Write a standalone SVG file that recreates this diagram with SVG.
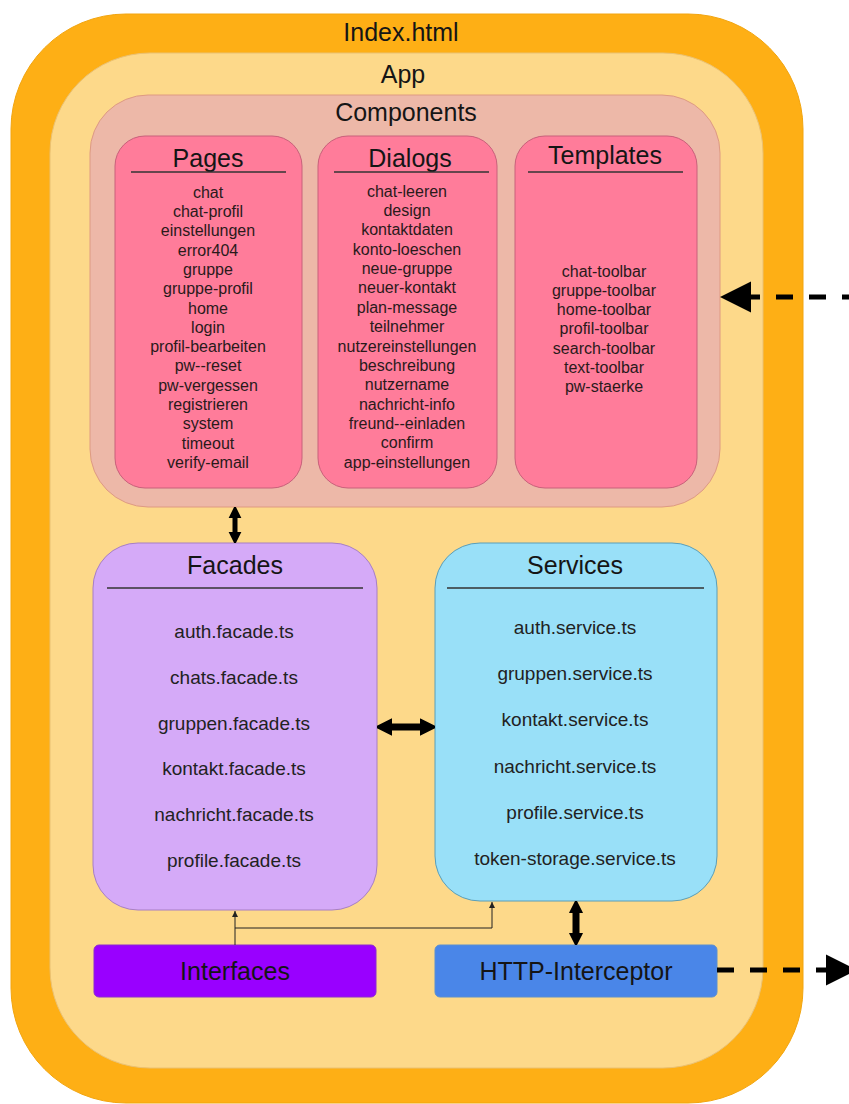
<svg xmlns="http://www.w3.org/2000/svg" width="849" height="1104" viewBox="0 0 849 1104">
<style>
  text { font-family: "Liberation Sans", Arial, sans-serif; fill: #151515; text-anchor: middle; }
  .t { font-size: 25px; }
  .s { font-size: 16px; fill: #2a1a1a; }
  .m { font-size: 19px; fill: #222; }
  .ul { stroke: #333; stroke-width: 1.6; }
  .comp { fill: #FF7C9A; stroke: #C8607A; stroke-width: 1; }
  .thick { stroke: #000; fill: none; }
  .dash { stroke: #000; stroke-width: 5; stroke-dasharray: 17 16; fill: none; }
  .thin { stroke: #222; stroke-width: 1; fill: none; }
</style>
<defs>
  <marker id="headS" viewBox="0 0 10 10" refX="0" refY="5" markerWidth="11" markerHeight="15" markerUnits="userSpaceOnUse" orient="auto-start-reverse">
    <path d="M0,0 L10,5 L0,10 z" fill="#000" stroke="#000" stroke-width="1.5" stroke-linejoin="round"/>
  </marker>
  <marker id="headM" viewBox="0 0 10 10" refX="0" refY="5" markerWidth="12" markerHeight="20" markerUnits="userSpaceOnUse" orient="auto-start-reverse">
    <path d="M0,0 L10,5 L0,10 z" fill="#000" stroke="#000" stroke-width="1.5" stroke-linejoin="round"/>
  </marker>
  <marker id="headL" viewBox="0 0 10 10" refX="0" refY="5" markerWidth="15" markerHeight="24" markerUnits="userSpaceOnUse" orient="auto-start-reverse">
    <path d="M0,0 L10,5 L0,10 z" fill="#000" stroke="#000" stroke-width="1.5" stroke-linejoin="round"/>
  </marker>
  <marker id="headBig" viewBox="0 0 10 10" refX="0" refY="5" markerWidth="31" markerHeight="35" markerUnits="userSpaceOnUse" orient="auto">
    <path d="M0,0 L10,5 L0,10 z" fill="#000"/>
  </marker>
  <marker id="headThin" viewBox="0 0 10 10" refX="10" refY="5" markerWidth="6" markerHeight="6" markerUnits="userSpaceOnUse" orient="auto">
    <path d="M0,0 L10,5 L0,10 z" fill="#222"/>
  </marker>
</defs>

<g id="index">
  <rect x="11" y="14" width="792" height="1089" rx="115" fill="#FEAF15" stroke="#F2A510" stroke-width="1"/>
  <text class="t" x="401" y="41">Index.html</text>
</g>

<g id="app">
  <rect x="50" y="53" width="713" height="1015" rx="100" fill="#FDD98A" stroke="#EAC173" stroke-width="1"/>
  <text class="t" x="403" y="83">App</text>
</g>

<g id="components">
  <rect x="90" y="95" width="630" height="412" rx="58" fill="#EDB8A8" stroke="#DE9A82" stroke-width="1"/>
  <text class="t" x="406" y="121">Components</text>
</g>

<g id="pages">
  <rect class="comp" x="115" y="136" width="187" height="352" rx="30"/>
  <text class="t" x="208" y="167">Pages</text>
  <line class="ul" x1="131" y1="172" x2="286" y2="172"/>
  <text class="s" x="208" y="197.7">chat</text>
  <text class="s" x="208" y="217">chat-profil</text>
  <text class="s" x="208" y="236.3">einstellungen</text>
  <text class="s" x="208" y="255.6">error404</text>
  <text class="s" x="208" y="274.9">gruppe</text>
  <text class="s" x="208" y="294.2">gruppe-profil</text>
  <text class="s" x="208" y="313.5">home</text>
  <text class="s" x="208" y="332.8">login</text>
  <text class="s" x="208" y="352.1">profil-bearbeiten</text>
  <text class="s" x="208" y="371.4">pw--reset</text>
  <text class="s" x="208" y="390.7">pw-vergessen</text>
  <text class="s" x="208" y="410">registrieren</text>
  <text class="s" x="208" y="429.3">system</text>
  <text class="s" x="208" y="448.6">timeout</text>
  <text class="s" x="208" y="467.9">verify-email</text>
</g>

<g id="dialogs">
  <rect class="comp" x="318" y="136" width="179" height="352" rx="30"/>
  <text class="t" x="410" y="167">Dialogs</text>
  <line class="ul" x1="334" y1="172" x2="489" y2="172"/>
  <text class="s" x="407" y="196.7">chat-leeren</text>
  <text class="s" x="407" y="216">design</text>
  <text class="s" x="407" y="235.4">kontaktdaten</text>
  <text class="s" x="407" y="254.7">konto-loeschen</text>
  <text class="s" x="407" y="274.1">neue-gruppe</text>
  <text class="s" x="407" y="293.4">neuer-kontakt</text>
  <text class="s" x="407" y="312.8">plan-message</text>
  <text class="s" x="407" y="332.1">teilnehmer</text>
  <text class="s" x="407" y="351.5">nutzereinstellungen</text>
  <text class="s" x="407" y="370.8">beschreibung</text>
  <text class="s" x="407" y="390.2">nutzername</text>
  <text class="s" x="407" y="409.5">nachricht-info</text>
  <text class="s" x="407" y="428.9">freund--einladen</text>
  <text class="s" x="407" y="448.2">confirm</text>
  <text class="s" x="407" y="467.6">app-einstellungen</text>
</g>

<g id="templates">
  <rect class="comp" x="515" y="136" width="182" height="352" rx="30"/>
  <text class="t" x="605" y="164">Templates</text>
  <line class="ul" x1="528" y1="172" x2="683" y2="172"/>
  <text class="s" x="604" y="276.7">chat-toolbar</text>
  <text class="s" x="604" y="295.9">gruppe-toolbar</text>
  <text class="s" x="604" y="315.1">home-toolbar</text>
  <text class="s" x="604" y="334.3">profil-toolbar</text>
  <text class="s" x="604" y="353.5">search-toolbar</text>
  <text class="s" x="604" y="372.7">text-toolbar</text>
  <text class="s" x="604" y="391.9">pw-staerke</text>
</g>

<g id="facades">
  <rect x="93" y="543" width="284" height="367" rx="45" fill="#D5AAF8" stroke="#A77FC4" stroke-width="1"/>
  <text class="t" x="235" y="574">Facades</text>
  <line class="ul" x1="107" y1="588" x2="363" y2="588"/>
  <text class="m" x="234" y="637.7">auth.facade.ts</text>
  <text class="m" x="234" y="683.6">chats.facade.ts</text>
  <text class="m" x="234" y="729.5">gruppen.facade.ts</text>
  <text class="m" x="234" y="775.4">kontakt.facade.ts</text>
  <text class="m" x="234" y="821.3">nachricht.facade.ts</text>
  <text class="m" x="234" y="867.2">profile.facade.ts</text>
</g>

<g id="services">
  <rect x="435" y="543" width="282" height="358" rx="45" fill="#99E0F8" stroke="#5A9EB8" stroke-width="1"/>
  <text class="t" x="575" y="574">Services</text>
  <line class="ul" x1="447" y1="588" x2="704" y2="588"/>
  <text class="m" x="575" y="634">auth.service.ts</text>
  <text class="m" x="575" y="680.2">gruppen.service.ts</text>
  <text class="m" x="575" y="726.4">kontakt.service.ts</text>
  <text class="m" x="575" y="772.6">nachricht.service.ts</text>
  <text class="m" x="575" y="818.8">profile.service.ts</text>
  <text class="m" x="575" y="865">token-storage.service.ts</text>
</g>

<g id="interfaces">
  <rect x="94" y="945" width="282" height="52" rx="5" fill="#9900FF" stroke="#8A2BD0" stroke-width="1"/>
  <text class="t" x="235" y="980">Interfaces</text>
</g>

<g id="http-interceptor">
  <rect x="435" y="945" width="282" height="52" rx="5" fill="#4A86E8" stroke="#5B8FD0" stroke-width="1"/>
  <text class="t" x="576" y="980">HTTP-Interceptor</text>
</g>

<g id="connectors">
  <line class="thick" x1="235" y1="518" x2="235" y2="532" stroke-width="5" marker-start="url(#headS)" marker-end="url(#headS)"/>
  <line class="thick" x1="392" y1="727" x2="420" y2="727" stroke-width="7" marker-start="url(#headL)" marker-end="url(#headL)"/>
  <line class="thick" x1="576" y1="913" x2="576" y2="933" stroke-width="7" marker-start="url(#headM)" marker-end="url(#headM)"/>
  <path class="thin" d="M235,945 V911" marker-end="url(#headThin)"/>
  <path class="thin" d="M235,928 H492 V902" marker-end="url(#headThin)"/>
  <path class="dash" d="M859,297 H751" marker-end="url(#headBig)"/>
  <path class="dash" d="M717,970 H826" marker-end="url(#headBig)"/>
</g>
</svg>
